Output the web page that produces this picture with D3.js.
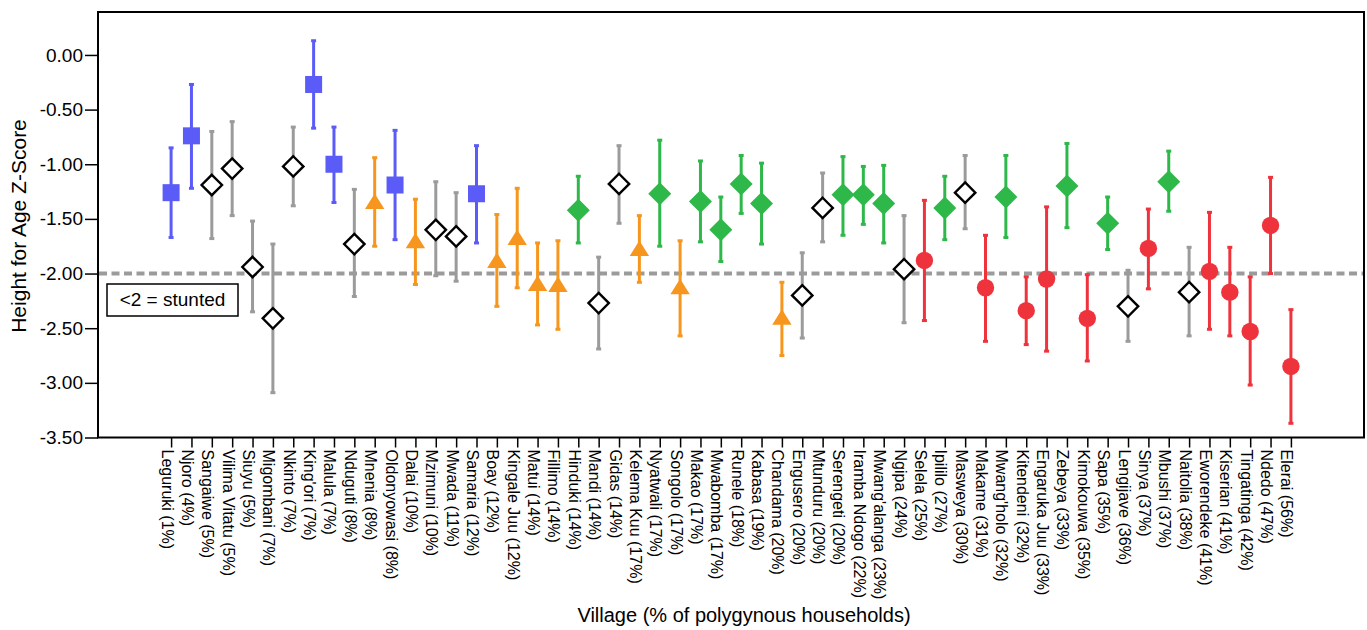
<!DOCTYPE html>
<html>
<head>
<meta charset="utf-8">
<script src="https://cdn.jsdelivr.net/npm/d3@7"></script>
<style>
  body { margin: 0; background: #ffffff; }
  text { font-family: "Liberation Sans", Arial, Helvetica, sans-serif; fill: #000; }
</style>
</head>
<body>
<div id="chart"></div>
<script>
// village names with % of polygynous households, in plotting order
var villages = ["Leguruki (1%)", "Njoro (4%)", "Sangaiwe (5%)", "Vilima Vitatu (5%)", "Siuyu (5%)",
  "Migombani (7%)", "Nkinto (7%)", "King'ori (7%)", "Malula (7%)", "Nduguti (8%)", "Mnenia (8%)",
  "Oldonyowasi (8%)", "Dalai (10%)", "Mzimuni (10%)", "Mwada (11%)", "Samaria (12%)", "Boay (12%)",
  "Kingale Juu (12%)", "Matui (14%)", "Fillimo (14%)", "Hinduki (14%)", "Mandi (14%)", "Gidas (14%)",
  "Kelema Kuu (17%)", "Nyatwali (17%)", "Songolo (17%)", "Makao (17%)", "Mwabomba (17%)", "Runele (18%)",
  "Kabasa (19%)", "Chandama (20%)", "Engusero (20%)", "Mtunduru (20%)", "Serengeti (20%)",
  "Iramba Ndogo (22%)", "Mwang'alanga (23%)", "Ngipa (24%)", "Selela (25%)", "Ipililo (27%)",
  "Masweya (30%)", "Makame (31%)", "Mwang'holo (32%)", "Kitendeni (32%)", "Engaruka Juu (33%)",
  "Zebeya (33%)", "Kimokouwa (35%)", "Sapa (35%)", "Lengijave (36%)", "Sinya (37%)", "Mbushi (37%)",
  "Naitolia (38%)", "Eworendeke (41%)", "Kiserian (41%)", "Tingatinga (42%)", "Ndedo (47%)", "Elerai (56%)"];

// mean height-for-age z-score per village
var hazMean = [-1.26, -0.74, -1.19, -1.04, -1.94, -2.41, -1.02, -0.27, -1.00, -1.73, -1.34,
  -1.19, -1.70, -1.60, -1.66, -1.27, -1.88, -1.67, -2.09, -2.10, -1.42, -2.27, -1.18,
  -1.77, -1.27, -2.12, -1.34, -1.60, -1.18, -1.36, -2.40, -2.20, -1.40, -1.28,
  -1.28, -1.36, -1.96, -1.88, -1.40, -1.26, -2.13, -1.30, -2.34, -2.05,
  -1.20, -2.41, -1.54, -2.30, -1.77, -1.16, -2.17, -1.98, -2.17, -2.53, -1.56, -2.85];

// upper and lower ends of the error bars
var hazHigh = [-0.85, -0.27, -0.70, -0.61, -1.52, -1.73, -0.66, 0.13, -0.66, -1.23, -0.94,
  -0.69, -1.32, -1.16, -1.26, -0.83, -1.46, -1.22, -1.72, -1.70, -1.11, -1.85, -0.83,
  -1.47, -0.78, -1.70, -0.97, -1.30, -0.92, -0.99, -2.08, -1.81, -1.08, -0.93,
  -1.02, -1.01, -1.47, -1.33, -1.11, -0.92, -1.65, -0.92, -2.03, -1.39,
  -0.81, -2.01, -1.30, -1.97, -1.41, -0.88, -1.76, -1.44, -1.76, -2.03, -1.12, -2.33];

var hazLow = [-1.67, -1.22, -1.68, -1.47, -2.35, -3.09, -1.38, -0.67, -1.35, -2.21, -1.75,
  -1.69, -2.10, -2.02, -2.07, -1.72, -2.30, -2.13, -2.47, -2.51, -1.72, -2.69, -1.54,
  -2.08, -1.75, -2.57, -1.71, -1.89, -1.45, -1.73, -2.75, -2.59, -1.71, -1.65,
  -1.55, -1.72, -2.45, -2.43, -1.69, -1.59, -2.62, -1.67, -2.65, -2.71,
  -1.58, -2.80, -1.78, -2.62, -2.14, -1.43, -2.57, -2.51, -2.57, -3.02, -2.00, -3.37];

// marker group: B = blue square, N = open diamond, O = orange triangle, G = green diamond, R = red circle
var groupCode = ["B", "B", "N", "N", "N", "N", "N", "B", "B", "N", "O",
  "B", "O", "N", "N", "B", "O", "O", "O", "O", "G", "N", "N",
  "O", "G", "O", "G", "G", "G", "G", "O", "N", "N", "G",
  "G", "G", "N", "R", "G", "N", "R", "G", "R", "R",
  "G", "R", "G", "N", "R", "G", "N", "R", "R", "R", "R", "R"];

var yTicks = [0, -0.5, -1, -1.5, -2, -2.5, -3, -3.5];
var stuntedCutoff = -2;

var width = 1367, height = 630;
var plot_left = 98, plot_right = 1364, plot_top = 12, plot_bottom = 437.5;

var bar_colors = { B: "#5b5bf7", N: "#9b9b9b", O: "#f7961e", G: "#2fb84a", R: "#ee333d" };
var fill_colors = { B: "#5b5bf7", N: "#ffffff", O: "#f7961e", G: "#2fb84a", R: "#ee333d" };

var svg = d3.select("#chart").append("svg")
  .attr("width", width)
  .attr("height", height);

// scales
var x = d3.scalePoint()
  .domain(villages)
  .range([plot_left, plot_right])
  .padding(3.59);

var y = d3.scaleLinear()
  .domain([-3.5, 0.39])
  .range([plot_bottom, plot_bottom - 3.89 * 109.3]);

var rows = villages.map(function (v, i) {
  return { name: v, mean: hazMean[i], hi: hazHigh[i], lo: hazLow[i], g: groupCode[i] };
});

// y axis with outward ticks
var yAxis = svg.append("g")
  .attr("transform", "translate(" + plot_left + ",0)")
  .call(d3.axisLeft(y).tickValues(yTicks).tickSize(13).tickPadding(2)
    .tickFormat(function (d) { return d.toFixed(2); }));
yAxis.select(".domain").remove();
yAxis.selectAll("line").attr("stroke", "#000").attr("stroke-width", 1.5);
yAxis.selectAll("text")
  .style("font-size", "19px")
  .style("font-family", "'Liberation Sans', Arial, sans-serif")
  .attr("fill", "#000");

// x axis with rotated village labels
var xAxis = svg.append("g")
  .attr("transform", "translate(0," + plot_bottom + ")")
  .call(d3.axisBottom(x).tickSize(10).tickSizeOuter(0));
xAxis.select(".domain").remove();
xAxis.selectAll("line").attr("stroke", "#000").attr("stroke-width", 1.5);
xAxis.selectAll("text")
  .style("font-size", "16px")
  .style("font-family", "'Liberation Sans', Arial, sans-serif")
  .attr("fill", "#000")
  .attr("text-anchor", "start")
  .attr("dy", null)
  .attr("x", 12)
  .attr("y", 10)
  .attr("transform", "rotate(90)");

// plot frame
svg.append("rect")
  .attr("x", plot_left)
  .attr("y", plot_top)
  .attr("width", plot_right - plot_left)
  .attr("height", plot_bottom - plot_top)
  .attr("fill", "none")
  .attr("stroke", "#000")
  .attr("stroke-width", 2);

// stunting cut-off line
svg.append("line")
  .attr("x1", plot_left + 1)
  .attr("x2", plot_right - 1)
  .attr("y1", y(stuntedCutoff))
  .attr("y2", y(stuntedCutoff))
  .attr("stroke", "#9b9b9b")
  .attr("stroke-width", 4)
  .attr("stroke-dasharray", "8,4.5");

// legend box for the cut-off
svg.append("rect")
  .attr("x", 107)
  .attr("y", 284)
  .attr("width", 131)
  .attr("height", 32)
  .attr("fill", "#fff")
  .attr("stroke", "#000")
  .attr("stroke-width", 1.5);
svg.append("text")
  .text("<2 = stunted")
  .attr("x", 172.5)
  .attr("y", 306)
  .attr("text-anchor", "middle")
  .style("font-size", "19px");

// error bars
var bars = svg.append("g").selectAll("g")
  .data(rows)
  .join("g")
  .attr("class", "err-group");

bars.append("line")
  .attr("x1", function (d) { return x(d.name); })
  .attr("x2", function (d) { return x(d.name); })
  .attr("y1", function (d) { return y(d.hi); })
  .attr("y2", function (d) { return y(d.lo); })
  .attr("stroke", function (d) { return bar_colors[d.g]; })
  .attr("stroke-width", 3);

// caps on both ends
bars.selectAll("rect.cap")
  .data(function (d) { return [{ v: d.hi, g: d.g, n: d.name }, { v: d.lo, g: d.g, n: d.name }]; })
  .join("rect")
  .attr("class", "cap")
  .attr("x", function (c) { return x(c.n) - 2.5; })
  .attr("y", function (c) { return y(c.v) - 1.5; })
  .attr("width", 5)
  .attr("height", 3)
  .attr("fill", function (c) { return bar_colors[c.g]; });

// markers by group
var diamond = function (h) { return "M0," + (-h) + "L" + h + ",0L0," + h + "L" + (-h) + ",0Z"; };

bars.each(function (d) {
  var g = d3.select(this);
  var cx = x(d.name), cy = y(d.mean);
  if (d.g === "B") {
    g.append("rect")
      .attr("x", cx - 8.5).attr("y", cy - 8.5)
      .attr("width", 17).attr("height", 17)
      .attr("fill", fill_colors.B);
  } else if (d.g === "R") {
    g.append("circle")
      .attr("cx", cx).attr("cy", cy).attr("r", 8.7)
      .attr("fill", fill_colors.R);
  } else if (d.g === "O") {
    g.append("path")
      .attr("d", "M0,-8L9.7,7.5L-9.7,7.5Z")
      .attr("transform", "translate(" + cx + "," + cy + ")")
      .attr("fill", fill_colors.O);
  } else if (d.g === "G") {
    g.append("path")
      .attr("d", diamond(11.5))
      .attr("transform", "translate(" + cx + "," + cy + ")")
      .attr("fill", fill_colors.G);
  } else {
    g.append("path")
      .attr("d", diamond(10.2))
      .attr("transform", "translate(" + cx + "," + cy + ")")
      .attr("fill", "#fff")
      .attr("stroke", "#000")
      .attr("stroke-width", 2.4);
  }
});

// axis titles
svg.append("text")
  .text("Height for Age Z-Score")
  .attr("transform", "translate(26,226) rotate(-90)")
  .attr("text-anchor", "middle")
  .style("font-size", "21px");

svg.append("text")
  .text("Village (% of polygynous households)")
  .attr("x", 744)
  .attr("y", 622)
  .attr("text-anchor", "middle")
  .style("font-size", "20px");
</script>
</body>
</html>
